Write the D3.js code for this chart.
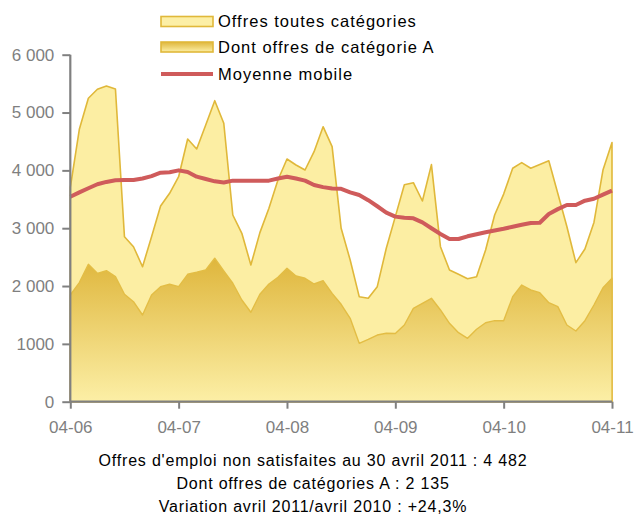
<!DOCTYPE html>
<html>
<head>
<meta charset="utf-8">
<script src="https://d3js.org/d3.v7.min.js"></script>
<style>
  body { margin: 0; background: #fff; }
  svg text { font-family: "Liberation Sans", Arial, sans-serif; }
</style>
</head>
<body>
<div id="chart"></div>
<script>
// DATA
const yearTicks = ["04-06", "04-07", "04-08", "04-09", "04-10", "04-11"];
const yTickLabels = ["0", "1000", "2 000", "3 000", "4 000", "5 000", "6 000"];
const legendLabels = ["Offres toutes catégories", "Dont offres de catégorie A", "Moyenne mobile"];
const footerLines = [
    "Offres d'emploi non satisfaites au 30 avril 2011 : 4 482",
    "Dont offres de catégories A : 2 135",
    "Variation avril 2011/avril 2010 : +24,3%"
];

// monthly values, avril 2006 -> avril 2011
const offresToutes = [
    3700, 4710, 5246, 5402, 5459, 5407, 2853, 2680, 2334, 2853, 3384, 3604,
    3890, 4543, 4370, 4785, 5205, 4814, 3228, 2912, 2364, 2923, 3344, 3834,
    4197, 4093, 4006, 4323, 4755, 4410, 2998, 2450, 1816, 1788, 1989, 2653,
    3200, 3750, 3787, 3470, 4100, 2680, 2277, 2203, 2127, 2162, 2623, 3228,
    3590, 4036, 4133, 4036, 4100, 4167, 3600, 3030, 2404, 2640, 3100, 4006,
    4482
];
const offresA = [
    1845, 2058, 2376, 2220, 2265, 2162, 1857, 1729, 1499, 1845, 1989, 2030,
    1989, 2203, 2238, 2277, 2480, 2261, 2048, 1758, 1546, 1857, 2035, 2151,
    2307, 2174, 2134, 2035, 2093, 1874, 1684, 1442, 1010, 1079, 1153, 1183,
    1180, 1326, 1615, 1702, 1788, 1586, 1356, 1193, 1096, 1252, 1366, 1401,
    1401, 1816, 2018, 1932, 1885, 1712, 1643, 1326, 1222, 1401, 1672, 1971,
    2135
];
const moyenneMobile = [
    3545, 3620, 3690, 3760, 3800, 3830, 3834, 3834, 3860, 3900, 3960, 3967,
    4000, 3973, 3891, 3850, 3810, 3790, 3822, 3822, 3822, 3822, 3822, 3860,
    3891, 3860, 3822, 3747, 3710, 3685, 3680, 3620, 3574, 3485, 3380, 3270,
    3200, 3180, 3171, 3100, 3000, 2900, 2813, 2813, 2860, 2895, 2930, 2960,
    2990, 3025, 3060, 3090, 3095, 3246, 3330, 3401, 3401, 3476, 3510, 3580,
    3649
];

const W = 638, H = 516;
const svg = d3.select("#chart").append("svg")
    .attr("width", W).attr("height", H);

const xScale = d3.scaleLinear().domain([0, offresToutes.length - 1]).range([70.3, 612]);
const yScale = d3.scaleLinear().domain([0, 6000]).range([401.7, 54.7]);

// gradient for category A
const defs = svg.append("defs");
const grad = defs.append("linearGradient")
    .attr("id", "gradA")
    .attr("x1", 0).attr("y1", 0).attr("x2", 0).attr("y2", 1);
grad.append("stop").attr("offset", "0%").attr("stop-color", "#dfb63c");
grad.append("stop").attr("offset", "100%").attr("stop-color", "#fcefa6");

const area = d3.area()
    .x((d, i) => xScale(i))
    .y0(yScale(0))
    .y1(d => yScale(d));

svg.append("path")
    .datum(offresToutes)
    .attr("d", area)
    .attr("fill", "#fceea3")
    .attr("stroke", "#e0b83a")
    .attr("stroke-width", 1.6)
    .attr("stroke-linejoin", "round");

svg.append("path")
    .datum(offresA)
    .attr("d", area)
    .attr("fill", "url(#gradA)")
    .attr("stroke", "#e3bd45")
    .attr("stroke-width", 1.4)
    .attr("stroke-linejoin", "round");

svg.append("path")
    .datum(moyenneMobile)
    .attr("d", d3.line().x((d, i) => xScale(i)).y(d => yScale(d)))
    .attr("fill", "none")
    .attr("stroke", "#cf5b5b")
    .attr("stroke-width", 4)
    .attr("stroke-linejoin", "round");

// axes
const yAxis = svg.append("g")
    .attr("transform", `translate(${xScale(0)},0)`)
    .call(d3.axisLeft(yScale)
        .tickValues(d3.range(0, 6001, 1000))
        .tickFormat((d, i) => yTickLabels[i])
        .tickSize(8).tickPadding(8));

const xAxis = svg.append("g")
    .attr("transform", `translate(0,${yScale(0)})`)
    .call(d3.axisBottom(xScale)
        .tickValues(d3.range(0, offresToutes.length, 12))
        .tickFormat((d, i) => yearTicks[i])
        .tickSize(7).tickPadding(12));

[xAxis, yAxis].forEach(ax => {
    ax.select(".domain").attr("stroke", "#808080").attr("stroke-width", 2.2);
    ax.selectAll(".tick line").attr("stroke", "#808080").attr("stroke-width", 2);
    ax.selectAll(".tick text")
        .attr("fill", "#7f7f7f")
        .style("font-size", "17px")
        .style("font-family", "'Liberation Sans', Arial, sans-serif");
});
yAxis.select(".domain").attr("d", `M0,${yScale(6000)}V${yScale(0)}`);
xAxis.select(".domain").attr("d", `M${xScale(0)},0H${xScale(60)}`);

// legend
const legend = svg.append("g").attr("transform", "translate(161,0)");
const rowY = [21.5, 47, 74];
legend.append("rect")
    .attr("x", 0).attr("y", rowY[0] - 5).attr("width", 52).attr("height", 10)
    .attr("fill", "#fcefa6").attr("stroke", "#e0b83a").attr("stroke-width", 1.6);
legend.append("rect")
    .attr("x", 0).attr("y", rowY[1] - 5).attr("width", 52).attr("height", 10)
    .attr("fill", "url(#gradA)").attr("stroke", "#e0b83a").attr("stroke-width", 1.6);
legend.append("line")
    .attr("x1", 0).attr("x2", 52).attr("y1", rowY[2]).attr("y2", rowY[2])
    .attr("stroke", "#cf5b5b").attr("stroke-width", 4);
legend.selectAll("text.lg")
    .data(legendLabels)
    .enter().append("text")
    .attr("class", "lg")
    .attr("x", 57)
    .attr("y", (d, i) => rowY[i] + 5.5)
    .attr("fill", "#000")
    .style("font-size", "16.5px")
    .style("letter-spacing", "1px")
    .text(d => d);

// footer
svg.selectAll("text.foot")
    .data(footerLines)
    .enter().append("text")
    .attr("class", "foot")
    .attr("x", 313)
    .attr("y", (d, i) => 466 + i * 23)
    .attr("text-anchor", "middle")
    .attr("fill", "#000")
    .style("font-size", "16px")
    .style("letter-spacing", "0.8px")
    .text(d => d);
</script>
</body>
</html>
